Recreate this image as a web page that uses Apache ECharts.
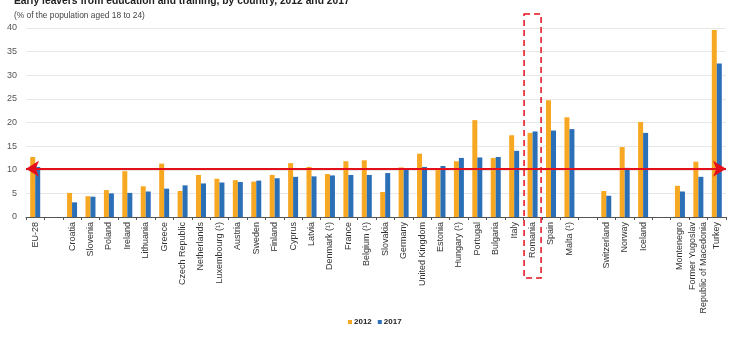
<!DOCTYPE html>
<html>
<head>
<meta charset="utf-8">
<script src="https://cdn.jsdelivr.net/npm/echarts@6/dist/echarts.min.js"></script>
<style>
html,body{margin:0;padding:0;background:#fff;}
#chart{width:730px;height:348px;}
</style>
</head>
<body>
<div id="chart"></div>
<script>
var categories = ['EU-28', '', 'Croatia', 'Slovenia', 'Poland', 'Ireland', 'Lithuania', 'Greece', 'Czech Republic', 'Netherlands', 'Luxembourg (¹)', 'Austria', 'Sweden', 'Finland', 'Cyprus', 'Latvia', 'Denmark (¹)', 'France', 'Belgium (¹)', 'Slovakia', 'Germany', 'United Kingdom', 'Estonia', 'Hungary (¹)', 'Portugal', 'Bulgaria', 'Italy', 'Romania', 'Spain', 'Malta (¹)', '', 'Switzerland', 'Norway', 'Iceland', '', 'Montenegro', 'Former Yugoslav\nRepublic of Macedonia', 'Turkey'];
var values2012 = [12.7, null, 5.1, 4.4, 5.7, 9.7, 6.5, 11.3, 5.5, 8.9, 8.1, 7.8, 7.5, 8.9, 11.4, 10.6, 9.1, 11.8, 12.0, 5.3, 10.5, 13.4, 10.3, 11.8, 20.5, 12.5, 17.3, 17.8, 24.7, 21.1, null, 5.5, 14.8, 20.1, null, 6.6, 11.7, 39.6];
var values2017 = [10.6, null, 3.1, 4.3, 5.0, 5.1, 5.4, 6.0, 6.7, 7.1, 7.3, 7.4, 7.7, 8.2, 8.5, 8.6, 8.8, 8.9, 8.9, 9.3, 10.1, 10.6, 10.8, 12.5, 12.6, 12.7, 14.0, 18.1, 18.3, 18.6, null, 4.5, 10.4, 17.8, null, 5.4, 8.5, 32.5];
var seriesNames = ['2012', '2017'];
var referenceValue = 10.2;
var highlighted = 'Romania';

var FONT = '"Liberation Sans", Arial, sans-serif';
var chart = echarts.init(document.getElementById('chart'));
chart.setOption({
  animation: false,
  backgroundColor: '#fff',
  title: [{
    text: 'Early leavers from education and training, by country, 2012 and 2017',
    left: 9, top: -9,
    textStyle: {fontFamily: FONT, fontSize: 10.3, fontWeight: 'bold', color: '#222'}
  }, {
    text: '(% of the population aged 18 to 24)',
    left: 9, top: 7,
    textStyle: {fontFamily: FONT, fontSize: 8.4, fontWeight: 'normal', color: '#444'}
  }],
  legend: {
    data: seriesNames,
    bottom: 17, left: 343,
    itemWidth: 4, itemHeight: 4, itemGap: 6,
    icon: 'rect',
    textStyle: {fontFamily: FONT, fontSize: 8, fontWeight: 'bold', color: '#222', padding: [0, 0, 0, -3]}
  },
  grid: {left: 26, right: 4, top: 28, bottom: 131, containLabel: false},
  xAxis: {
    type: 'category',
    data: categories,
    axisLine: {lineStyle: {color: '#555', width: 1}},
    axisTick: {show: true, length: 3, lineStyle: {color: '#555'}},
    axisLabel: {rotate: 90, interval: 0, margin: 5, fontFamily: FONT, fontSize: 9, color: '#333', lineHeight: 11}
  },
  yAxis: {
    type: 'value', min: 0, max: 40, interval: 5,
    axisLine: {show: false}, axisTick: {show: false},
    axisLabel: {fontFamily: FONT, fontSize: 9, color: '#555', margin: 9},
    splitLine: {lineStyle: {color: '#e8e8e8'}}
  },
  series: [{
    name: seriesNames[0], type: 'bar', data: values2012,
    barWidth: 5, barGap: '0%',
    itemStyle: {color: '#f7a823'},
    markLine: {
      silent: true,
      symbol: ['arrow', 'arrow'], symbolSize: [12, 13],
      label: {show: false},
      lineStyle: {color: '#e3101b', width: 2.2, type: 'solid'},
      data: [{yAxis: referenceValue}]
    }
  }, {
    name: seriesNames[1], type: 'bar', data: values2017,
    barWidth: 5, barGap: '0%',
    itemStyle: {color: '#2b6fb7'}
  }]
});
var cx = chart.convertToPixel({xAxisIndex: 0}, highlighted);
chart.setOption({
  graphic: [{
    type: 'rect',
    shape: {x: cx - 8.5, y: 14, width: 17, height: 264},
    style: {fill: 'none', stroke: '#e3101b', lineWidth: 1.5, lineDash: [6, 4]},
    z: 100
  }]
});
</script>
</body>
</html>
